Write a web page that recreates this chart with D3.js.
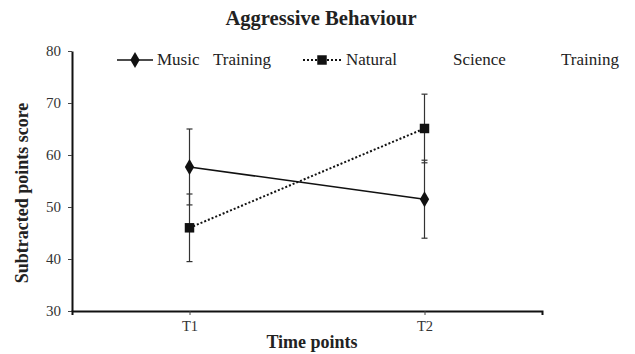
<!DOCTYPE html>
<html>
<head>
<meta charset="utf-8">
<script src="https://cdn.jsdelivr.net/npm/d3@7"></script>
<style>
  body { margin: 0; background: #fff; }
  text { font-family: "Liberation Serif", "DejaVu Serif", serif; }
</style>
</head>
<body>
<svg width="635" height="354"></svg>
<script>
var timePoints = ["T1", "T2"];
var musicMeans = [57.7, 51.5];
var musicErr = [7.3, 7.5];
var scienceMeans = [46.0, 65.1];
var scienceErr = [6.5, 6.6];
var yTicks = [30, 40, 50, 60, 70, 80];

var svg = d3.select("svg"),
    margin = {top: 51, right: 93, bottom: 43, left: 72},
    width = +svg.attr("width") - margin.left - margin.right,
    height = +svg.attr("height") - margin.top - margin.bottom,
    g = svg.append("g").attr("transform", "translate(" + margin.left + "," + margin.top + ")");

var x = d3.scalePoint().domain(timePoints).range([0, width]).padding(0.5);
var y = d3.scaleLinear().domain([30, 80]).range([height, 0]);

var series = [
  {name: "music", means: musicMeans, err: musicErr, dash: null, symbol: d3.symbolDiamond, size: 75},
  {name: "science", means: scienceMeans, err: scienceErr, dash: "2,2", symbol: d3.symbolSquare, size: 90}
];

// title
svg.append("text")
    .attr("x", 321)
    .attr("y", 25)
    .attr("text-anchor", "middle")
    .attr("font-weight", "bold")
    .style("font-size", "20.6px")
    .attr("fill", "#222")
    .text("Aggressive Behaviour");

// y axis
var yAxis = g.append("g")
    .call(d3.axisLeft(y).tickValues(yTicks).tickSize(4).tickSizeOuter(0));
yAxis.select(".domain").attr("stroke", "#111").attr("stroke-width", 2);
yAxis.selectAll(".tick line").attr("stroke", "#444");
yAxis.selectAll(".tick text")
    .attr("x", -11)
    .attr("fill", "#333")
    .style("font-size", "15px")
    .style("font-family", "'Liberation Serif', serif");

// x axis
var xAxis = g.append("g")
    .attr("transform", "translate(0," + height + ")")
    .call(d3.axisBottom(x).tickSize(4).tickSizeOuter(4));
xAxis.select(".domain").attr("stroke", "#111").attr("stroke-width", 2);
xAxis.selectAll(".tick line").attr("stroke", "#444");
xAxis.selectAll(".tick text")
    .attr("y", 10)
    .attr("fill", "#333")
    .style("font-size", "14.5px")
    .style("font-family", "'Liberation Serif', serif");

// axis titles
svg.append("text")
    .attr("transform", "translate(28,193) rotate(-90)")
    .attr("text-anchor", "middle")
    .attr("font-weight", "bold")
    .style("font-size", "18px")
    .attr("fill", "#222")
    .text("Subtracted points score");

svg.append("text")
    .attr("x", 312)
    .attr("y", 348)
    .attr("text-anchor", "middle")
    .attr("font-weight", "bold")
    .style("font-size", "18px")
    .attr("fill", "#222")
    .text("Time points");

// error bars
series.forEach(function(s) {
  var eb = g.append("g").attr("class", "err-" + s.name);
  timePoints.forEach(function(t, i) {
    var cx = x(t), top = y(s.means[i] + s.err[i]), bot = y(s.means[i] - s.err[i]);
    eb.append("line").attr("x1", cx).attr("x2", cx).attr("y1", top).attr("y2", bot)
        .attr("stroke", "#333").attr("stroke-width", 1.2);
    [top, bot].forEach(function(yy) {
      eb.append("line").attr("x1", cx - 3).attr("x2", cx + 3).attr("y1", yy).attr("y2", yy)
          .attr("stroke", "#333").attr("stroke-width", 1.2);
    });
  });
});

// lines and markers
var line = d3.line()
    .x(function(d, i) { return x(timePoints[i]); })
    .y(function(d) { return y(d); });

series.forEach(function(s) {
  g.append("path")
      .datum(s.means)
      .attr("fill", "none")
      .attr("stroke", "#111")
      .attr("stroke-width", s.dash ? 2 : 1.6)
      .attr("stroke-dasharray", s.dash)
      .attr("d", line);
  g.selectAll(".pt-" + s.name)
    .data(s.means)
    .enter().append("path")
      .attr("class", "pt-" + s.name)
      .attr("transform", function(d, i) { return "translate(" + x(timePoints[i]) + "," + y(d) + ")"; })
      .attr("d", d3.symbol().type(s.symbol).size(s.size))
      .attr("fill", "#111");
});

// legend
var legend = svg.append("g").attr("transform", "translate(0,60)");
legend.append("line").attr("x1", 117).attr("x2", 153).attr("stroke", "#111").attr("stroke-width", 1.6);
legend.append("path").attr("transform", "translate(135,0)")
    .attr("d", d3.symbol().type(d3.symbolDiamond).size(75)).attr("fill", "#111");
legend.append("line").attr("x1", 303).attr("x2", 343).attr("stroke", "#111")
    .attr("stroke-width", 2).attr("stroke-dasharray", "2,2");
legend.append("path").attr("transform", "translate(322,0)")
    .attr("d", d3.symbol().type(d3.symbolSquare).size(90)).attr("fill", "#111");

var legendWords = [
  {text: "Music", x: 157},
  {text: "Training", x: 213},
  {text: "Natural", x: 346},
  {text: "Science", x: 453},
  {text: "Training", x: 561}
];
legend.selectAll("text.lw")
  .data(legendWords)
  .enter().append("text")
    .attr("class", "lw")
    .attr("x", function(d) { return d.x; })
    .attr("y", 5)
    .attr("fill", "#222")
    .style("font-size", "17px")
    .text(function(d) { return d.text; });
</script>
</body>
</html>
